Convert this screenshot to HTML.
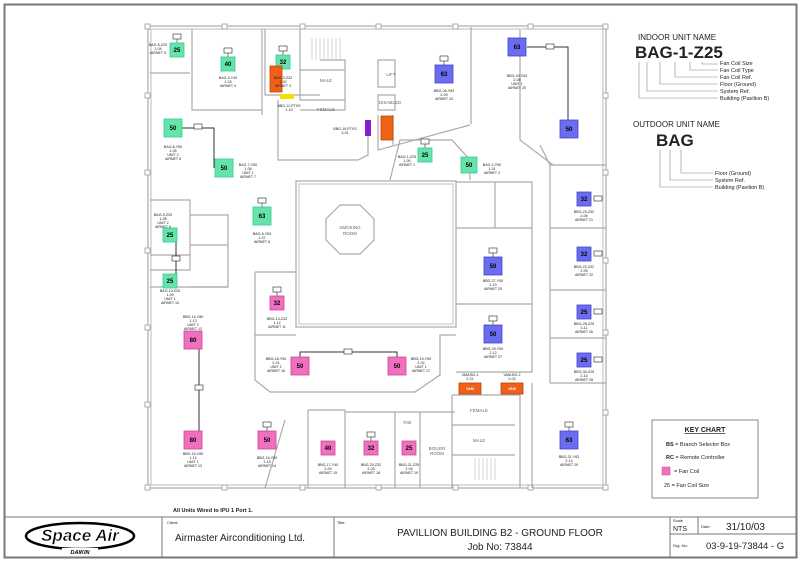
<!DOCTYPE html>
<html><head><meta charset="utf-8"><style>
html,body{margin:0;padding:0;background:#fff}
svg{display:block}
text{font-family:"Liberation Sans",sans-serif}
</style></head><body>
<svg width="800" height="562" viewBox="0 0 800 562" xmlns="http://www.w3.org/2000/svg">
<rect x="0" y="0" width="800" height="562" fill="#fff"/>
<rect x="4.5" y="4.5" width="792" height="553" fill="none" stroke="#777" stroke-width="2"/>

<g fill="none" stroke="#999" stroke-width="1">
<rect x="148" y="26" width="458" height="462"/>
<rect x="151" y="29" width="452" height="456" stroke="#bbb"/>
</g>
<g fill="#fff" stroke="#999" stroke-width="0.8">
<rect x="145" y="24" width="5" height="5"/><rect x="222" y="24" width="5" height="5"/><rect x="300" y="24" width="5" height="5"/><rect x="376" y="24" width="5" height="5"/><rect x="453" y="24" width="5" height="5"/><rect x="528" y="24" width="5" height="5"/><rect x="603" y="24" width="5" height="5"/>
<rect x="145" y="93" width="5" height="5"/><rect x="145" y="170" width="5" height="5"/><rect x="145" y="248" width="5" height="5"/><rect x="145" y="325" width="5" height="5"/><rect x="145" y="402" width="5" height="5"/><rect x="145" y="485" width="5" height="5"/>
<rect x="603" y="93" width="5" height="5"/><rect x="603" y="170" width="5" height="5"/><rect x="603" y="258" width="5" height="5"/><rect x="603" y="330" width="5" height="5"/><rect x="603" y="410" width="5" height="5"/><rect x="603" y="485" width="5" height="5"/>
<rect x="222" y="485" width="5" height="5"/><rect x="300" y="485" width="5" height="5"/><rect x="376" y="485" width="5" height="5"/><rect x="453" y="485" width="5" height="5"/><rect x="528" y="485" width="5" height="5"/>
</g>

<g fill="none" stroke="#aaa" stroke-width="1.2">
<path d="M150 73 H190 M192 29 V110 H262 M262 29 V115 M265 29 V95 H300 V100"/>
<path d="M300 29 V95 H320 M320 60 H345 V110 M300 70 H345 M300 100 H345 M300 110 H345"/>
<path d="M278 100 V160 H358 L368 155 V135"/>
<path d="M378 60 H395 V87 H378 Z M378 95 H395 V110 H378 Z M378 115 V150 L470 125 M393 115 V145"/>
<path d="M471 124 V27"/>
<path d="M150 200 H190 V270 H150 M190 215 H228 V287 H190 M190 245 H228 M150 255 H190"/>
<path d="M150 287 H228"/>
<rect x="296" y="181" width="160" height="146"/>
<rect x="299" y="184" width="154" height="140" stroke="#ccc"/>
<polygon points="340,205 360,205 374,219 374,240 360,254 340,254 326,240 326,219"/>
<path d="M255 272 H296 M255 272 V335 H296"/>
<path d="M255 335 V380 L270 392 H415 L440 375 V335 H456"/>
<path d="M390 180 L400 140 H452 L470 160 V180"/>
<path d="M456 182 H532 V372 H456 M456 228 H532 M456 304 H532 M495 182 V228"/>
<path d="M540 145 L550 165 V383 M550 165 H606 M550 228 H606 M550 290 H606 M550 338 H606 M550 383 H606"/>
<path d="M520 30 V140 L553 165"/>
<path d="M308 410 V488 M308 410 H345 M345 410 V488 M345 412 H420 M395 412 V488 M420 412 V488 M420 412 H455"/>
<path d="M285 420 L265 488"/>
<path d="M452 395 H520 V488 M452 395 V488 M452 425 H515 M452 455 H515"/>
<path d="M532 383 V488"/>
</g>
<g stroke="#bbb" stroke-width="0.6">
<path d="M312 38 V60 M316 38 V60 M320 38 V60 M324 38 V60 M328 38 V60 M332 38 V60 M336 38 V60 M340 38 V60"/>
<path d="M475 458 V480 M479 458 V480 M483 458 V480 M487 458 V480 M491 458 V480 M495 458 V480"/>
</g>

<g font-size="4.5" fill="#666" text-anchor="middle">
<text x="326" y="82">MALE</text><text x="326" y="111">FEMALE</text>
<text x="391" y="76">LIFT</text><text x="390" y="104">DISABLED</text>
<text x="350" y="229">SMOKING</text><text x="350" y="235">ROOM</text>
<text x="479" y="412">FEMALE</text><text x="479" y="442">MALE</text>
<text x="407" y="424">TAB</text><text x="437" y="450">BOILER</text><text x="437" y="455">ROOM</text>
</g>

<g stroke="#333" stroke-width="1" fill="none">
<path d="M181 128 H214 V168"/>
<path d="M527 47 H568 V120"/>
<path d="M176 235 V280"/>
<path d="M199 340 V440"/>
<path d="M300 357 V352 H397 V357"/>
</g>

<!-- remote controllers -->
<g fill="#fff" stroke="#444" stroke-width="0.7">
<path d="M177 43 V39 M228 57 V53 M283 55 V51 M444 65 V61 M262 207 V203 M425 148 V144 M277 296 V292 M267 431 V427 M371 441 V437 M493 257 V253 M493 325 V321 M569 431 V427"/>
<rect x="173" y="34" width="8" height="5"/><rect x="224" y="48" width="8" height="5"/><rect x="279" y="46" width="8" height="5"/><rect x="440" y="56" width="8" height="5"/><rect x="258" y="198" width="8" height="5"/><rect x="421" y="139" width="8" height="5"/><rect x="273" y="287" width="8" height="5"/><rect x="263" y="422" width="8" height="5"/><rect x="367" y="432" width="8" height="5"/><rect x="489" y="248" width="8" height="5"/><rect x="489" y="316" width="8" height="5"/><rect x="565" y="422" width="8" height="5"/>
<rect x="194" y="124" width="8" height="5"/><rect x="195" y="385" width="8" height="5"/><rect x="344" y="349" width="8" height="5"/><rect x="172" y="256" width="8" height="5"/><rect x="546" y="44" width="8" height="5"/>
<rect x="594" y="196" width="8" height="5"/><rect x="594" y="251" width="8" height="5"/><rect x="594" y="309" width="8" height="5"/><rect x="594" y="357" width="8" height="5"/>
</g>

<g font-size="6" font-weight="bold" text-anchor="middle" stroke-width="0.8">
<g fill="#66e3a8" stroke="#3c9"><rect x="170" y="43" width="14" height="14"/><rect x="221" y="57" width="14" height="14"/><rect x="276" y="55" width="14" height="14"/><rect x="164" y="119" width="18" height="18"/><rect x="215" y="159" width="18" height="18"/><rect x="253" y="207" width="18" height="18"/><rect x="163" y="228" width="14" height="14"/><rect x="163" y="274" width="14" height="14"/><rect x="418" y="148" width="14" height="14"/><rect x="461" y="157" width="16" height="16"/></g>
<g fill="#6c6cf0" stroke="#44c"><rect x="435" y="65" width="18" height="18"/><rect x="508" y="38" width="18" height="18"/><rect x="560" y="120" width="18" height="18"/><rect x="577" y="192" width="14" height="14"/><rect x="577" y="247" width="14" height="14"/><rect x="577" y="305" width="14" height="14"/><rect x="577" y="353" width="14" height="14"/><rect x="484" y="257" width="18" height="18"/><rect x="484" y="325" width="18" height="18"/><rect x="560" y="431" width="18" height="18"/></g>
<g fill="#f070c0" stroke="#c49"><rect x="270" y="296" width="14" height="14"/><rect x="184" y="331" width="18" height="18"/><rect x="184" y="431" width="18" height="18"/><rect x="291" y="357" width="18" height="18"/><rect x="388" y="357" width="18" height="18"/><rect x="258" y="431" width="18" height="18"/><rect x="321" y="441" width="14" height="14"/><rect x="364" y="441" width="14" height="14"/><rect x="402" y="441" width="14" height="14"/></g>
<g fill="#f06018" stroke="#b40"><rect x="270" y="66" width="12" height="26"/><rect x="381" y="116" width="12" height="24"/><rect x="459" y="383" width="22" height="11"/><rect x="501" y="383" width="22" height="11"/></g>
<rect x="365" y="120" width="6" height="16" fill="#8a1ec8"/>
<rect x="280" y="94" width="14" height="5" fill="#f5e000"/>
<g fill="#000" stroke="none">
<text x="177" y="52">25</text><text x="228" y="66">40</text><text x="283" y="64">32</text><text x="173" y="130">50</text><text x="224" y="170">50</text><text x="262" y="218">63</text><text x="170" y="237">25</text><text x="170" y="283">25</text><text x="425" y="157">25</text><text x="469" y="167">50</text>
<text x="444" y="76">63</text><text x="517" y="49">63</text><text x="569" y="131">50</text><text x="584" y="201">32</text><text x="584" y="256">32</text><text x="584" y="314">25</text><text x="584" y="362">25</text><text x="493" y="268">50</text><text x="493" y="336">50</text><text x="569" y="442">63</text>
<text x="277" y="305">32</text><text x="193" y="342">80</text><text x="193" y="442">80</text><text x="300" y="368">50</text><text x="397" y="368">50</text><text x="267" y="442">50</text><text x="328" y="450">40</text><text x="371" y="450">32</text><text x="409" y="450">25</text>
</g>
<g fill="#fff" font-size="3.5" stroke="none"><text x="470" y="390">VAM</text><text x="512" y="390">VAM</text></g>
</g>

<g font-size="3.6" fill="#222" text-anchor="middle">
<text x="158" y="46">BAG-5-Z25</text><text x="158" y="50">1-04</text><text x="158" y="54">AIRNET 5</text>
<text x="228" y="79">BAG-4-Y40</text><text x="228" y="83">1-03</text><text x="228" y="87">AIRNET 4</text>
<text x="283" y="79">BAG-3-Z32</text><text x="283" y="83">1-02</text><text x="283" y="87">AIRNET 3</text>
<text x="289" y="107">BBG-11-PTXS</text><text x="289" y="111">1-10</text>
<text x="345" y="130">BBG-10-PTXS</text><text x="345" y="134">3-01</text>
<text x="444" y="92">BBG-26-Y63</text><text x="444" y="96">2-09</text><text x="444" y="100">AIRNET 24</text>
<text x="517" y="77">BBG-20-Y63</text><text x="517" y="81">2-08</text><text x="517" y="85">UNIT 1</text><text x="517" y="89">AIRNET 20</text>
<text x="173" y="148">BAG-6-Y50</text><text x="173" y="152">1-05</text><text x="173" y="156">UNIT 2</text><text x="173" y="160">AIRNET 6</text>
<text x="248" y="166">BAG-7-Y50</text><text x="248" y="170">1-06</text><text x="248" y="174">UNIT 1</text><text x="248" y="178">AIRNET 7</text>
<text x="407" y="158">BAG-1-Z25</text><text x="407" y="162">1-00</text><text x="407" y="166">AIRNET 1</text>
<text x="492" y="166">BAG-2-Y50</text><text x="492" y="170">1-01</text><text x="492" y="174">AIRNET 2</text>
<text x="262" y="235">BAG-8-Y63</text><text x="262" y="239">1-07</text><text x="262" y="243">AIRNET 8</text>
<text x="163" y="216">BAG-9-Z25</text><text x="163" y="220">1-08</text><text x="163" y="224">UNIT 2</text><text x="163" y="228">AIRNET 9</text>
<text x="170" y="292">BAG-10-Z25</text><text x="170" y="296">1-09</text><text x="170" y="300">UNIT 1</text><text x="170" y="304">AIRNET 10</text>
<text x="277" y="320">BBG-13-Z32</text><text x="277" y="324">1-12</text><text x="277" y="328">AIRNET 11</text>
<text x="193" y="318">BBG-14-Y80</text><text x="193" y="322">1-13</text><text x="193" y="326">UNIT 2</text><text x="193" y="330">AIRNET 12</text>
<text x="193" y="455">BBG-15-Y80</text><text x="193" y="459">1-14</text><text x="193" y="463">UNIT 1</text><text x="193" y="467">AIRNET 13</text>
<text x="276" y="360">BBG-18-Y50</text><text x="276" y="364">2-01</text><text x="276" y="368">UNIT 2</text><text x="276" y="372">AIRNET 16</text>
<text x="421" y="360">BBG-19-Y50</text><text x="421" y="364">2-02</text><text x="421" y="368">UNIT 1</text><text x="421" y="372">AIRNET 17</text>
<text x="267" y="459">BBG-16-Y50</text><text x="267" y="463">1-15</text><text x="267" y="467">AIRNET 14</text>
<text x="328" y="466">BBG-17-Y40</text><text x="328" y="470">2-00</text><text x="328" y="474">AIRNET 15</text>
<text x="371" y="466">BBG-20-Z32</text><text x="371" y="470">2-03</text><text x="371" y="474">AIRNET 18</text>
<text x="409" y="466">BBG-21-Z25</text><text x="409" y="470">2-04</text><text x="409" y="474">AIRNET 19</text>
<text x="584" y="213">BBG-23-Z32</text><text x="584" y="217">2-06</text><text x="584" y="221">AIRNET 21</text>
<text x="584" y="268">BBG-22-Z32</text><text x="584" y="272">2-05</text><text x="584" y="276">AIRNET 22</text>
<text x="584" y="325">BBG-28-Z25</text><text x="584" y="329">2-11</text><text x="584" y="333">AIRNET 26</text>
<text x="584" y="373">BBG-30-Z25</text><text x="584" y="377">2-13</text><text x="584" y="381">AIRNET 28</text>
<text x="493" y="282">BBG-27-Y50</text><text x="493" y="286">2-10</text><text x="493" y="290">AIRNET 25</text>
<text x="493" y="350">BBG-29-Y50</text><text x="493" y="354">2-12</text><text x="493" y="358">AIRNET 27</text>
<text x="569" y="458">BBG-31-Y63</text><text x="569" y="462">2-14</text><text x="569" y="466">AIRNET 29</text>
<text x="470" y="376">VAM-BG-1</text><text x="470" y="380">2-01</text>
<text x="512" y="376">VAM-BG-2</text><text x="512" y="380">2-02</text>
</g>

<g fill="#222">
<text x="638" y="40" font-size="8">INDOOR UNIT NAME</text>
<text x="635" y="58" font-size="17" font-weight="bold">BAG-1-Z25</text>
<text x="633" y="127" font-size="8">OUTDOOR UNIT NAME</text>
<text x="656" y="146" font-size="17" font-weight="bold">BAG</text>
<g font-size="5.5">
<text x="720" y="65">Fan Coil Size</text><text x="720" y="72">Fan Coil Type</text><text x="720" y="79">Fan Coil Ref.</text><text x="720" y="86">Floor (Ground)</text><text x="720" y="93">System Ref.</text><text x="720" y="100">Building (Pavilion B)</text>
<text x="715" y="175">Floor (Ground)</text><text x="715" y="182">System Ref.</text><text x="715" y="189">Building (Pavilion B)</text>
</g>
</g>
<g fill="none" stroke="#888" stroke-width="0.6">
<path d="M639 62 V98 H718 M647 62 V91 H718 M660 62 V84 H718 M675 62 V77 H718 M690 62 V70 H718 M702 62 V64 H718"/>
<path d="M660 150 V187 H713 M670 150 V180 H713 M681 150 V173 H713"/>
</g>

<rect x="652" y="420" width="106" height="78" fill="#fff" stroke="#888" stroke-width="1"/>
<g fill="#222" font-size="5.5">
<text x="705" y="432" font-size="7" font-weight="bold" text-anchor="middle" text-decoration="underline">KEY CHART</text>
<text x="666" y="446"><tspan font-weight="bold">BS</tspan> = Branch Selector Box</text>
<text x="666" y="459"><tspan font-weight="bold">RC</tspan> = Remote Controller</text>
<rect x="662" y="467" width="8" height="8" fill="#f070c0" stroke="#c49" stroke-width="0.5"/>
<text x="674" y="473">= Fan Coil</text>
<text x="664" y="487">25 = Fan Coil Size</text>
</g>

<text x="173" y="512" font-size="5.5" font-weight="bold" fill="#222">All Units Wired to IPU 1 Port 1.</text>
<g fill="none" stroke="#777" stroke-width="1">
<line x1="4" y1="517" x2="796" y2="517"/>
<line x1="162" y1="517" x2="162" y2="557"/>
<line x1="334" y1="517" x2="334" y2="557"/>
<line x1="670" y1="517" x2="670" y2="557"/>
<line x1="698" y1="517" x2="698" y2="534"/>
<line x1="670" y1="534" x2="796" y2="534"/>
</g>
<ellipse cx="80" cy="536" rx="54" ry="13" fill="none" stroke="#000" stroke-width="2.5"/>
<text x="80" y="541" font-size="17" font-weight="bold" font-style="italic" text-anchor="middle" fill="#000" stroke="#fff" stroke-width="0.5">Space Air</text>
<rect x="62" y="548" width="36" height="6" fill="#fff"/>
<text x="80" y="554" font-size="5.5" font-weight="bold" font-style="italic" text-anchor="middle" fill="#000">DAIKIN</text>
<g fill="#222">
<text x="167" y="524" font-size="4">Client:</text>
<text x="175" y="541" font-size="10">Airmaster Airconditioning Ltd.</text>
<text x="337" y="524" font-size="4">Title:</text>
<text x="500" y="536" font-size="10" text-anchor="middle">PAVILLION BUILDING B2 - GROUND FLOOR</text>
<text x="500" y="550" font-size="10" text-anchor="middle">Job No: 73844</text>
<text x="673" y="522" font-size="4">Scale</text>
<text x="673" y="531" font-size="7">NTS</text>
<text x="701" y="528" font-size="4">Date:</text>
<text x="726" y="530" font-size="10">31/10/03</text>
<text x="673" y="547" font-size="4">Drg. No:</text>
<text x="706" y="549" font-size="9.5">03-9-19-73844 - G</text>
</g>
</svg>
</body></html>
